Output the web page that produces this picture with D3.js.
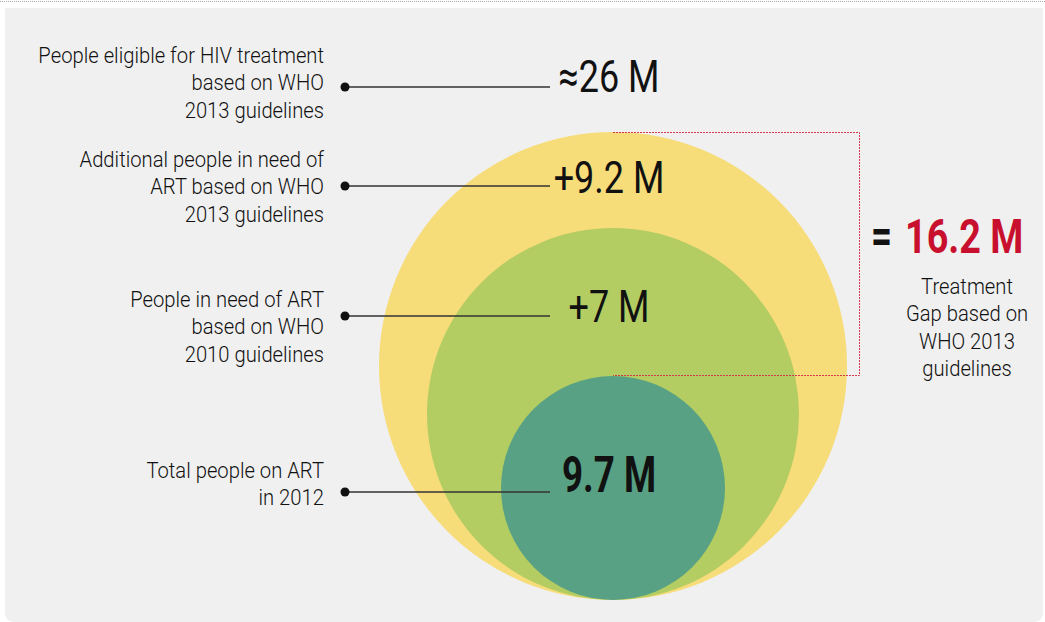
<!DOCTYPE html>
<html>
<head>
<meta charset="utf-8">
<script src="https://cdn.jsdelivr.net/npm/d3@7"></script>
<style>
  body { margin: 0; background: #fff; }
  svg { display: block; }
  text { font-family: Roboto, "Liberation Sans", sans-serif; }
</style>
</head>
<body>
<svg width="1045" height="622"></svg>
<script>
// data
var categories = ["People eligible for HIV treatment|based on WHO|2013 guidelines",
                  "Additional people in need of|ART based on WHO|2013 guidelines",
                  "People in need of ART|based on WHO|2010 guidelines",
                  "Total people on ART|in 2012"];
var valueLabels = ["\u224826 M", "+9.2 M", "+7 M", "9.7 M"];
var totals = [26, 16.7, 9.7];             // cumulative circle totals, outer to inner
var circleColors = ["#f7dc7a", "#b3cd62", "#58a184"];
var gapValue = "16.2 M";
var gapNote = ["Treatment", "Gap based on", "WHO 2013", "guidelines"];

var svg = d3.select("svg");
var width = +svg.attr("width");
var height = +svg.attr("height");

// narrow text: the original uses a condensed face, so squeeze a normal one
function narrowText(parent, x, y, sx) {
    return parent.append("g")
        .attr("transform", "translate(" + x + "," + y + ") scale(" + sx + ",1)")
        .append("text");
}

// background panel
svg.append("path")
    .attr("d", "M5,8 H1043 V612 Q1043,622 1033,622 H15 Q5,622 5,612 Z")
    .attr("fill", "#f0f0f0");
svg.append("line")
    .attr("x1", 0).attr("x2", width).attr("y1", 1.5).attr("y2", 1.5)
    .attr("stroke", "#aaa").attr("stroke-width", 1).attr("stroke-dasharray", "1,1");

var cx = 613, base = 600;
// the picture is not area-true, so the radius scale follows it piecewise
var r = d3.scaleLinear().domain([9.7, 16.7, 26]).range([112, 186, 234]);

svg.append("g").selectAll("circle")
    .data(totals)
    .enter().append("circle")
    .attr("cx", cx)
    .attr("cy", function (d) { return base - r(d); })
    .attr("r", function (d) { return r(d); })
    .attr("fill", function (d, i) { return circleColors[i]; });

// red dotted bracket for the gap (top of outer circle to top of inner circle)
var yTop = base - 2 * r(totals[0]);
var yBot = base - 2 * r(totals[2]);
svg.append("path")
    .attr("d", "M" + cx + "," + (yTop + 0.5) + " H859.5 V" + (yBot - 0.5) + " H" + cx)
    .attr("fill", "none")
    .attr("stroke", "#d23a4e")
    .attr("stroke-width", 1)
    .attr("stroke-dasharray", "2,1");

// rows: label, leader line, value
var rowY = [87, 186, 316, 492];
var labelBase = [63, 167, 307, 478];
var valueBase = [92, 193, 322, 492];

var rows = svg.append("g").selectAll("g")
    .data(categories)
    .enter().append("g");

rows.append("line")
    .attr("x1", 345).attr("x2", 550)
    .attr("y1", function (d, i) { return rowY[i]; })
    .attr("y2", function (d, i) { return rowY[i]; })
    .attr("stroke", "#333").attr("stroke-width", 1.5);

rows.append("circle")
    .attr("cx", 345)
    .attr("cy", function (d, i) { return rowY[i]; })
    .attr("r", 4.5)
    .attr("fill", "#111");

rows.each(function (d, i) {
    var t = narrowText(d3.select(this), 324, labelBase[i], 0.92)
        .attr("text-anchor", "end")
        .attr("font-size", 22)
        .attr("font-weight", 300)
        .attr("fill", "#111");
    d.split("|").forEach(function (s, j) {
        t.append("tspan").attr("x", 0).attr("y", j * 27.5).text(s);
    });

    narrowText(d3.select(this), 609, valueBase[i], i === 3 ? 0.75 : 0.8)
        .attr("text-anchor", "middle")
        .attr("font-size", i === 3 ? 49 : 45)
        .attr("font-weight", i === 3 ? "bold" : "normal")
        .attr("fill", "#111")
        .text(valueLabels[i]);
});

// gap figure
narrowText(svg, 871, 253, 0.75)
    .attr("font-size", 49).attr("font-weight", "bold").attr("fill", "#111")
    .text("=");
narrowText(svg, 905, 253, 0.77)
    .attr("font-size", 49).attr("font-weight", "bold").attr("fill", "#c8102e")
    .text(gapValue);

var note = narrowText(svg, 967, 294, 0.92)
    .attr("text-anchor", "middle")
    .attr("font-size", 22)
    .attr("font-weight", 300)
    .attr("fill", "#111");
note.selectAll("tspan")
    .data(gapNote)
    .enter().append("tspan")
    .attr("x", 0)
    .attr("y", function (d, i) { return i * 27.5; })
    .text(function (d) { return d; });
</script>
</body>
</html>
